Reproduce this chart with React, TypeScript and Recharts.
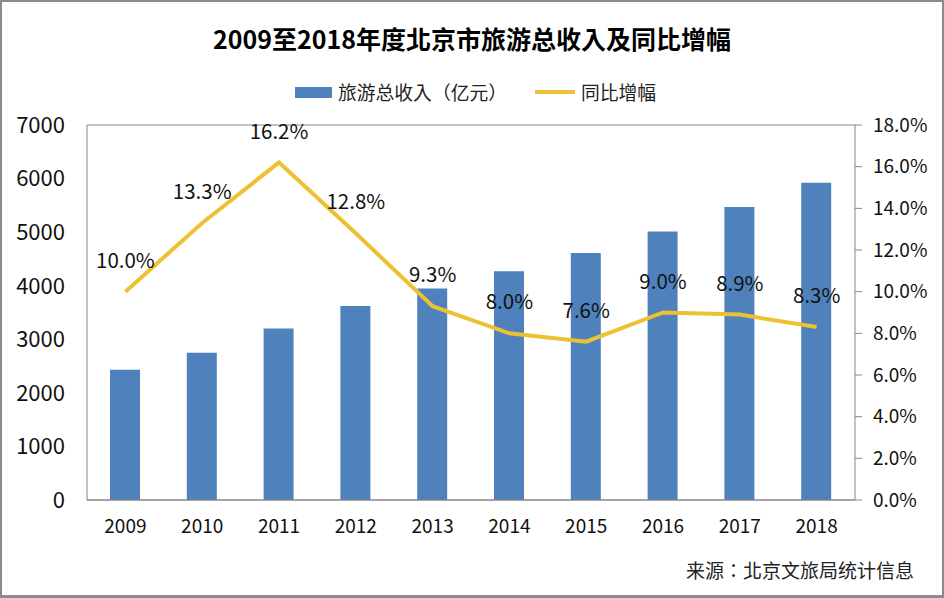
import { ComposedChart, Bar, Line, XAxis, YAxis, CartesianGrid, Legend, LabelList } from 'recharts';

const years = ['2009', '2010', '2011', '2012', '2013', '2014', '2015', '2016', '2017', '2018'];
const revenue = [2430, 2750, 3200, 3620, 3950, 4270, 4610, 5010, 5470, 5920];
const growth = [10.0, 13.3, 16.2, 12.8, 9.3, 8.0, 7.6, 9.0, 8.9, 8.3];
const leftTicks = [0, 1000, 2000, 3000, 4000, 5000, 6000, 7000];
const rightTicks = [0, 2, 4, 6, 8, 10, 12, 14, 16, 18];

const data = years.map((year, i) => ({ year, revenue: revenue[i], growth: growth[i] }));

const FONT = '"Noto Sans CJK TC", "Noto Sans", sans-serif';
const AXIS = '#868686';
const BLUE = '#4f81bd';
const YELLOW = '#ecc233';
const INK = '#111';

function ChartLegend() {
  return (
    <div style={{ display: 'flex', alignItems: 'center', fontFamily: FONT, fontSize: 18.8, color: '#222', lineHeight: '24px' }}>
      <span style={{ width: 37, height: 11, background: BLUE, marginRight: 6 }} />
      <span style={{ width: 197, whiteSpace: 'nowrap' }}>旅游总收入（亿元）</span>
      <span style={{ width: 40, height: 4, background: YELLOW, marginRight: 6 }} />
      <span>同比增幅</span>
    </div>
  );
}

export default function App() {
  return (
    <div style={{ position: 'absolute', left: 0, top: 0, width: 944, height: 598, boxSizing: 'border-box', border: '2px solid #8c8c8c', borderBottomWidth: 3, background: '#fff', overflow: 'hidden' }}>
      <div style={{ position: 'absolute', left: -2, top: 18, width: 944, textAlign: 'center', fontFamily: FONT, fontWeight: 700, fontSize: 25, color: '#000', lineHeight: '36px' }}>
        2009至2018年度北京市旅游总收入及同比增幅
      </div>
      <div style={{ position: 'absolute', left: 684, top: 555, fontFamily: FONT, fontSize: 19, color: '#222', lineHeight: '26px', whiteSpace: 'nowrap' }}>
        来源：北京文旅局统计信息
      </div>
      <div style={{ position: 'absolute', left: -2, top: -2 }}>
        <ComposedChart width={944} height={598} data={data} margin={{ top: 101, right: 0, bottom: 58, left: 0 }}>
          <CartesianGrid horizontal vertical={false} stroke={AXIS} strokeWidth={1} />
          <XAxis
            dataKey="year"
            height={40}
            stroke={AXIS}
            tickLine={false}
            tickMargin={14}
            tick={{ fontFamily: FONT, fontSize: 19, fill: INK }}
            interval={0}
          />
          <YAxis
            yAxisId="left"
            width={87}
            domain={[0, 7000]}
            ticks={leftTicks}
            stroke={AXIS}
            tickSize={0}
            tickMargin={22}
            tick={{ fontFamily: FONT, fontSize: 22, fill: INK }}
          />
          <YAxis
            yAxisId="right"
            orientation="right"
            width={89}
            domain={[0, 18]}
            ticks={rightTicks}
            stroke={AXIS}
            tickSize={7}
            tickMargin={11}
            tickFormatter={(v: number) => `${v.toFixed(1)}%`}
            tick={{ fontFamily: FONT, fontSize: 19, fill: INK }}
          />
          <Legend verticalAlign="top" align="left" wrapperStyle={{ left: 295, top: 80, width: 420 }} content={() => <ChartLegend />} />
          <Bar yAxisId="left" dataKey="revenue" name="旅游总收入（亿元）" fill={BLUE} barSize={30} isAnimationActive={false} />
          <Line yAxisId="right" dataKey="growth" name="同比增幅" stroke={YELLOW} strokeWidth={4} dot={false} isAnimationActive={false}>
            <LabelList
              dataKey="growth"
              position="top"
              offset={24}
              formatter={(v: number) => `${v.toFixed(1)}%`}
              style={{ fontFamily: FONT, fontSize: 20.5, fill: INK }}
            />
          </Line>
        </ComposedChart>
      </div>
    </div>
  );
}
